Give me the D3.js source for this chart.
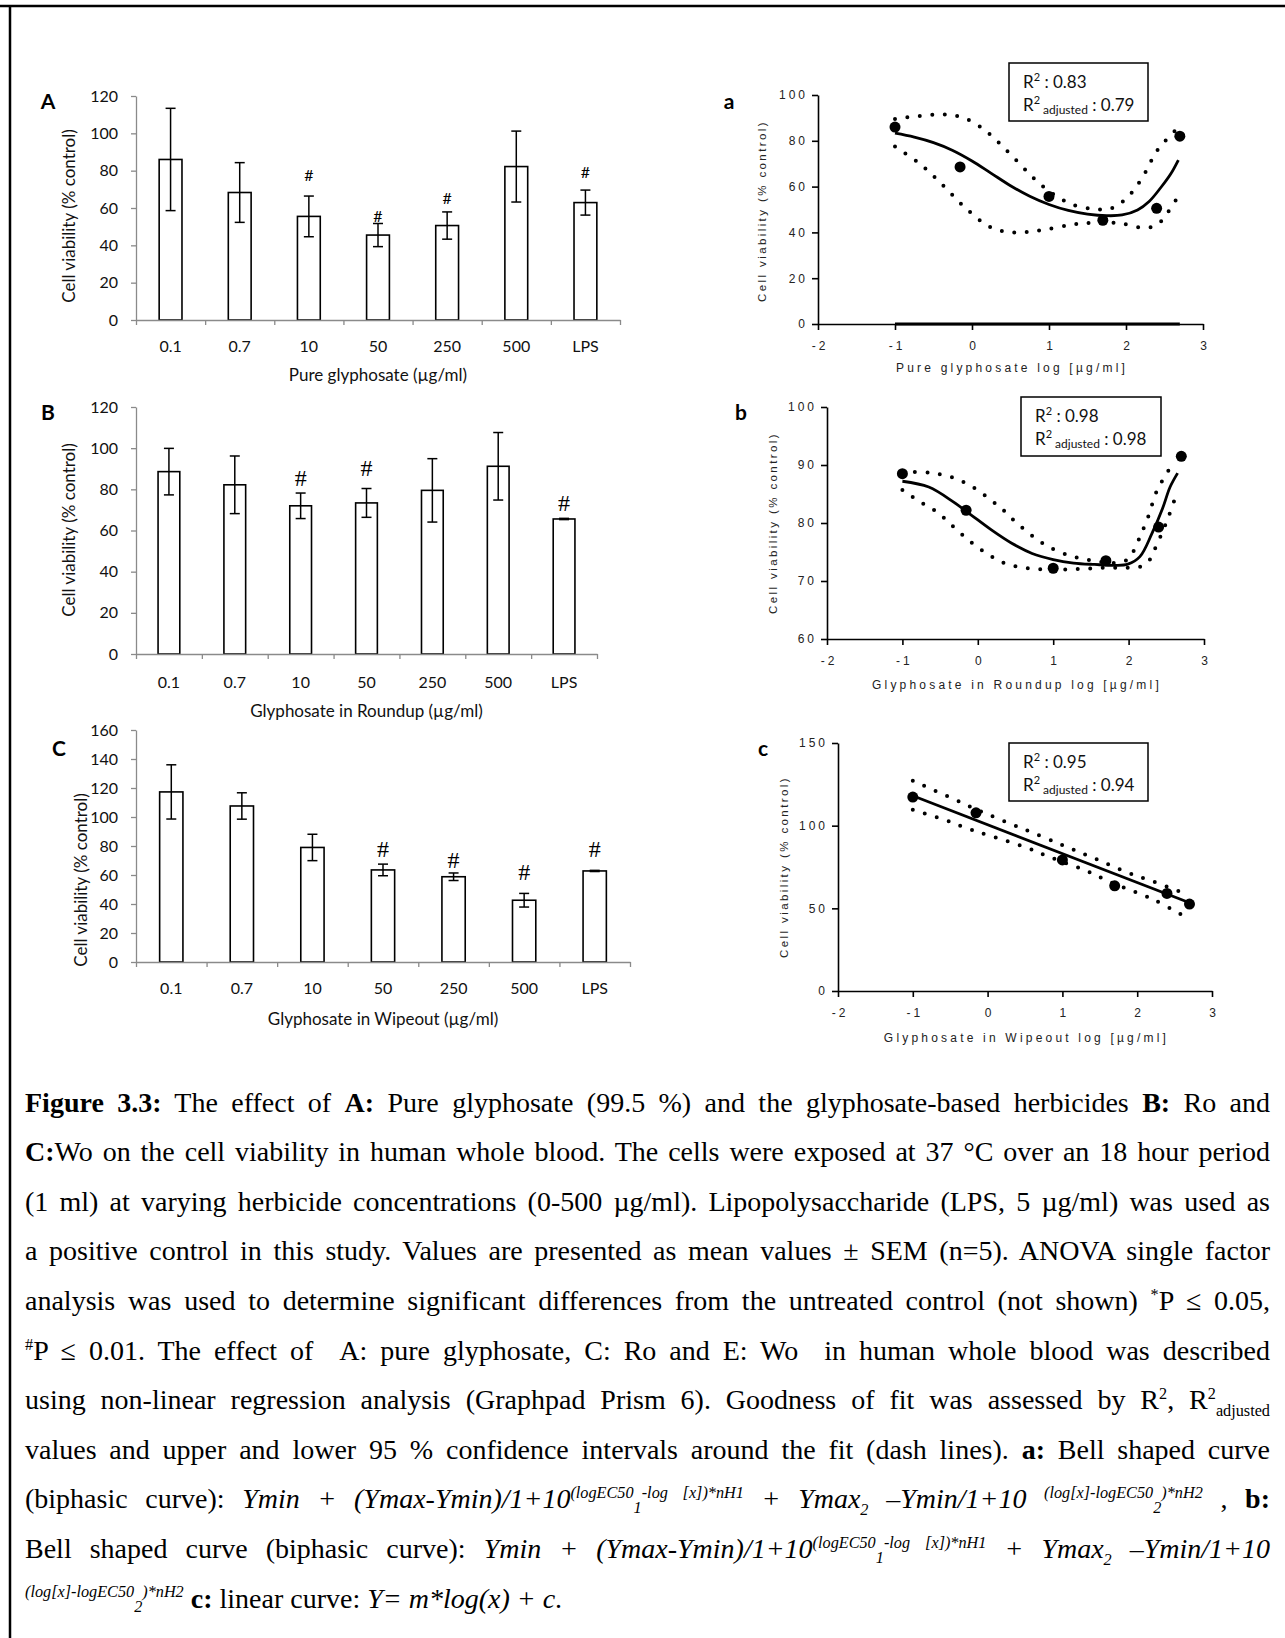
<!DOCTYPE html>
<html><head><meta charset="utf-8">
<script src="https://cdn.jsdelivr.net/npm/d3@7"></script>
<style>
html,body{margin:0;padding:0;background:#fff;}
#wrap{position:relative;width:1285px;height:1638px;overflow:hidden;background:#fff;}
svg{position:absolute;left:0;top:0;}
#cap{position:absolute;left:25px;top:0;width:1245px;font-family:"Liberation Serif","Times New Roman",serif;font-size:28px;color:#000;}
.ln{position:absolute;left:0;white-space:nowrap;line-height:30px;}
.ln sup,.ln sub{line-height:0;font-size:58%;}
.ln sup sub{font-size:100%;vertical-align:-15px;}
</style></head><body><div id="wrap"></div>
<script>
// ---------- data ----------
const categories = ["0.1","0.7","10","50","250","500","LPS"];
const meanA = [86.0, 68.3, 55.5, 45.5, 50.6, 82.2, 62.9];
const semA  = [27.4, 16.0, 10.9, 6.2, 7.3, 19.0, 6.7];
const sigA  = [null, null, 78.2, 55.9, 65.5, null, 79.5];
const meanB = [88.6, 82.2, 72.0, 73.4, 79.5, 91.2, 65.6];
const semB  = [11.3, 14.0, 6.2, 7.0, 15.4, 16.4, 0.3];
const sigB  = [null, null, 85.3, 90.6, null, null, 73.2];
const meanC = [117.3, 107.6, 79.0, 63.5, 58.8, 42.6, 62.8];
const semC  = [18.7, 9.1, 9.1, 4.0, 2.6, 4.7, 0.4];
const sigC  = [null, null, null, 77.6, 70.2, 62.2, 77.6];

const yTicksA = [0,20,40,60,80,100,120];
const yTicksB = [0,20,40,60,80,100,120];
const yTicksC = [0,20,40,60,80,100,120,140,160];

const logDose = [-1, -0.155, 1, 1.699, 2.398, 2.699];
const xTicksLog = [-2,-1,0,1,2,3];

const ptsA = [86.0, 68.6, 55.7, 45.3, 50.5, 82.0];
const fitA = [[-1,83.3],[-0.75,81.6],[-0.5,79.2],[-0.25,75.8],[0,71.2],[0.25,65.8],[0.5,60.4],[0.75,55.8],[1,52.2],[1.25,49.6],[1.5,48],[1.75,47.3],[1.95,47.6],[2.15,49.8],[2.3,53.5],[2.45,59.5],[2.58,65.5],[2.68,71.6]];
const upA  = [[-1,89.5],[-0.7,90.8],[-0.4,91.5],[-0.15,90.5],[0.1,86.3],[0.31,80.4],[0.53,73.1],[0.8,63.7],[1.01,57.8],[1.28,52.5],[1.6,50.1],[1.82,50.6],[2.03,55.7],[2.22,64.4],[2.41,76],[2.67,85.5]];
const loA  = [[-1,77.5],[-0.66,69.5],[-0.36,60],[-0.06,49.9],[0.26,41.9],[0.53,40],[0.85,40.7],[1.28,43.3],[1.6,44.3],[1.92,44],[2.25,41.9],[2.4,43.3],[2.49,46.2],[2.57,50.1],[2.65,54.2]];
const yTicksFitA = [0,20,40,60,80,100];

const ptsB = [88.5, 82.2, 72.2, 73.5, 79.3, 91.5];
const fitB = [[-1,87.2],[-0.65,86.2],[-0.32,83.6],[-0.1,81.5],[0.18,78.8],[0.45,76.5],[0.72,74.75],[1,73.7],[1.27,73.1],[1.55,72.85],[1.82,72.7],[1.99,72.9],[2.15,74.2],[2.31,78.2],[2.45,82.5],[2.55,86.2],[2.65,88.6]];
const upB  = [[-1,88.8],[-0.65,88.7],[-0.32,87.8],[-0.04,86],[0.18,83.9],[0.34,82.2],[0.5,80.2],[0.72,77.8],[0.94,75.9],[1.22,74.35],[1.49,73.6],[1.77,73.1],[1.96,73.5],[2.04,74.6],[2.15,77.6],[2.26,81.1],[2.37,85.4],[2.48,88],[2.6,90.5]];
const loB  = [[-1,85.7],[-0.76,83.6],[-0.54,81.9],[-0.32,79.3],[-0.1,76.8],[0.12,74.75],[0.37,73],[0.67,72.2],[1,72],[1.33,72.05],[1.66,72.3],[1.99,72.3],[2.15,72.45],[2.26,73.3],[2.34,75.3],[2.42,77.6],[2.53,81.1],[2.63,84.8]];
const yTicksFitB = [60,70,80,90,100];

const ptsC = [117.3, 107.8, 79.3, 63.6, 59.0, 52.6];
const fitC = [[-1,118.1],[2.7,53.4]];
const upC  = [[-1,127.2],[-0.45,116],[-0.03,107.5],[0.5,97.6],[1,88.3],[1.32,82.3],[1.9,71.2],[2.2,66.5],[2.61,59.4]];
const loC  = [[-1,109.6],[-0.57,103.5],[-0.28,98.5],[0,94.4],[0.5,87],[0.85,80.7],[1.3,73],[1.68,65.1],[2.23,55],[2.64,44.9]];
const yTicksFitC = [0,50,100,150];

const r2a = ["0.83","0.79"];
const r2b = ["0.98","0.98"];
const r2c = ["0.95","0.94"];

const captionLines = [
 '<b>Figure 3.3:</b> The effect of <b>A:</b> Pure glyphosate (99.5 %) and the glyphosate-based herbicides <b>B:</b> Ro and',
 '<b>C:</b>Wo on the cell viability in human whole blood. The cells were exposed at 37 °C over an 18 hour period',
 '(1 ml) at varying herbicide concentrations (0-500 µg/ml). Lipopolysaccharide (LPS, 5 µg/ml) was used as',
 'a positive control in this study. Values are presented as mean values ± SEM (n=5). ANOVA single factor',
 'analysis was used to determine significant differences from the untreated control (not shown) <sup>*</sup>P ≤ 0.05,',
 '<sup>#</sup>P ≤ 0.01. The effect of &nbsp;A: pure glyphosate, C: Ro and E: Wo &nbsp;in human whole blood was described',
 'using non-linear regression analysis (Graphpad Prism 6). Goodness of fit was assessed by R<sup>2</sup>, R<sup>2</sup><sub>adjusted</sub>',
 'values and upper and lower 95 % confidence intervals around the fit (dash lines). <b>a:</b> Bell shaped curve',
 '(biphasic curve): <i>Ymin + (Ymax-Ymin)/1+10<sup>(logEC50<sub>1</sub>-log [x])*nH1</sup> + Ymax<sub>2</sub> –Ymin/1+10 <sup>(log[x]-logEC50<sub>2</sub>)*nH2</sup></i> , <b>b:</b>',
 'Bell shaped curve (biphasic curve): <i>Ymin + (Ymax-Ymin)/1+10<sup>(logEC50<sub>1</sub>-log [x])*nH1</sup> + Ymax<sub>2</sub> –Ymin/1+10</i>',
 '<i><sup>(log[x]-logEC50<sub>2</sub>)*nH2</sup></i> <b>c:</b> linear curve: <i>Y= m*log(x) + c</i>.'
];

// ---------- drawing ----------
const W = 1285, H = 1638;
const wrap = d3.select('#wrap');
const svg = wrap.append('svg').attr('width', W).attr('height', H);
const SANS = "Lato, 'Open Sans', sans-serif";
const ARIAL = "'Liberation Sans', Arial, sans-serif";
const SERIF = "'Liberation Serif', 'Times New Roman', serif";
const AX = '#8a8a8a';

// frame
svg.append('line').attr('x1',0).attr('x2',W).attr('y1',6).attr('y2',6).attr('stroke','#000').attr('stroke-width',2.5);
svg.append('line').attr('x1',10).attr('x2',10).attr('y1',5).attr('y2',H).attr('stroke','#000').attr('stroke-width',2.5);

function barPanel(o){
  const g = svg.append('g');
  const x = d3.scaleBand().domain(categories).range([o.x0,o.x1]).padding(0);
  const y = d3.scaleLinear().domain([0,o.max]).range([o.yb,o.yt]);
  const bw = x.bandwidth()*0.33;
  g.selectAll('rect.bar').data(categories).join('rect')
    .attr('x', d => x(d)+(x.bandwidth()-bw)/2)
    .attr('y', (d,i) => y(o.mean[i]))
    .attr('width', bw)
    .attr('height', (d,i) => y(0)-y(o.mean[i]))
    .attr('fill','#fff').attr('stroke','#000').attr('stroke-width',1.6);
  const eb = g.selectAll('g.eb').data(categories).join('g');
  eb.append('line')
    .attr('x1', d => x(d)+x.bandwidth()/2).attr('x2', d => x(d)+x.bandwidth()/2)
    .attr('y1', (d,i) => y(o.mean[i]+o.sem[i])).attr('y2', (d,i) => y(o.mean[i]-o.sem[i]))
    .attr('stroke','#000').attr('stroke-width',1.5);
  [1,-1].forEach(s => {
    eb.append('line')
      .attr('x1', d => x(d)+x.bandwidth()/2-5).attr('x2', d => x(d)+x.bandwidth()/2+5)
      .attr('y1', (d,i) => y(o.mean[i]+s*o.sem[i])).attr('y2', (d,i) => y(o.mean[i]+s*o.sem[i]))
      .attr('stroke','#000').attr('stroke-width',1.5);
  });
  const ya = g.append('g').attr('transform',`translate(${o.x0},0)`)
    .call(d3.axisLeft(y).tickValues(o.ticks).tickSize(5).tickSizeOuter(0).tickPadding(13));
  ya.select('.domain').attr('stroke',AX).attr('stroke-width',1.3);
  ya.selectAll('.tick line').attr('stroke',AX).attr('stroke-width',1.3);
  ya.selectAll('.tick text').attr('font-family',SANS).attr('font-size',16).attr('fill','#111');
  const bnd = d3.scaleLinear().domain([0,categories.length]).range([o.x0,o.x1]);
  const xb = g.append('g').attr('transform',`translate(0,${o.yb})`)
    .call(d3.axisBottom(bnd).tickValues(d3.range(categories.length+1)).tickFormat('').tickSize(5).tickSizeOuter(0));
  xb.select('.domain').attr('stroke',AX).attr('stroke-width',1.3);
  xb.selectAll('.tick line').attr('stroke',AX).attr('stroke-width',1.3);
  const xa = g.append('g').attr('transform',`translate(0,${o.yb})`)
    .call(d3.axisBottom(x).tickSize(0));
  xa.select('.domain').remove();
  xa.selectAll('.tick text').attr('y', o.labY-o.yb).attr('dy','0.35em')
    .attr('font-family',SANS).attr('font-size',16).attr('fill','#111');
  g.selectAll('text.sig').data(categories.filter((d,i)=>o.sig[i]!=null)).join('text')
    .attr('x', d => x(d)+x.bandwidth()/2)
    .attr('y', d => y(o.sig[categories.indexOf(d)]))
    .attr('text-anchor','middle').attr('dominant-baseline','central')
    .attr('font-family', o.sigFont).attr('font-size', o.sigSize).attr('fill','#000')
    .text('#');
  g.append('text').attr('x',(o.x0+o.x1)/2).attr('y',o.titleY).attr('text-anchor','middle').attr('dominant-baseline','central')
    .attr('font-family',SANS).attr('font-size',17).attr('fill','#111').text(o.title);
  g.append('text').attr('transform',`translate(${o.ylabX},${o.ylabY}) rotate(-90)`).attr('text-anchor','middle').attr('dominant-baseline','central')
    .attr('font-family',SANS).attr('font-size',17).attr('fill','#111').text('Cell viability (% control)');
  g.append('text').attr('x',o.letterX).attr('y',o.letterY).attr('text-anchor','middle').attr('dominant-baseline','central')
    .attr('font-family',SANS).attr('font-weight','bold').attr('font-size',21).attr('fill','#000').text(o.letter);
}

barPanel({x0:136,x1:620,yb:320,yt:96,max:120,ticks:yTicksA,mean:meanA,sem:semA,sig:sigA,labY:346,titleY:374,
  title:'Pure glyphosate (µg/ml)',ylabX:68,ylabY:216,letter:'A',letterX:48,letterY:100,sigFont:SANS,sigSize:16});
barPanel({x0:136,x1:597,yb:654,yt:407,max:120,ticks:yTicksB,mean:meanB,sem:semB,sig:sigB,labY:682,titleY:710,
  title:'Glyphosate in Roundup (µg/ml)',ylabX:68,ylabY:530,letter:'B',letterX:48,letterY:411,sigFont:SERIF,sigSize:24});
barPanel({x0:136,x1:630,yb:962,yt:730,max:160,ticks:yTicksC,mean:meanC,sem:semC,sig:sigC,labY:988,titleY:1018,
  title:'Glyphosate in Wipeout (µg/ml)',ylabX:80,ylabY:880,letter:'C',letterX:59,letterY:747,sigFont:SERIF,sigSize:24});

function fitPanel(o){
  const g = svg.append('g');
  const x = d3.scaleLinear().domain([-2,3]).range([o.x0,o.x1]);
  const y = d3.scaleLinear().domain([o.ymin,o.ymax]).range([o.yb,o.yt]);
  const ls = 3;
  const ya = g.append('g').attr('transform',`translate(${o.x0},0)`)
    .call(d3.axisLeft(y).tickValues(o.ticks).tickSize(6).tickSizeOuter(0).tickPadding(4).tickFormat(d=>String(d)));
  const xa = g.append('g').attr('transform',`translate(0,${o.yb})`)
    .call(d3.axisBottom(x).tickValues(xTicksLog).tickSize(6).tickSizeOuter(0).tickFormat(d=>String(d)));
  [ya,xa].forEach(a => {
    a.select('.domain').attr('stroke','#000').attr('stroke-width',1.6);
    a.selectAll('.tick line').attr('stroke','#000').attr('stroke-width',1.6);
    a.selectAll('.tick text').attr('font-family',ARIAL).attr('font-size',12).attr('fill','#222').attr('letter-spacing',ls);
  });
  xa.selectAll('.tick text').attr('y', o.labY-o.yb).attr('dy','0.35em').attr('dx', ls/2);
  g.append('text').attr('x',(o.x0+o.x1)/2+ls/2).attr('y',o.titleY).attr('text-anchor','middle').attr('dominant-baseline','central')
    .attr('font-family',ARIAL).attr('font-size',12).attr('letter-spacing',3.2).attr('fill','#222').text(o.title);
  g.append('text').attr('transform',`translate(${o.ylabX},${o.ylabY}) rotate(-90)`).attr('text-anchor','middle').attr('dominant-baseline','central')
    .attr('font-family',ARIAL).attr('font-size',11.5).attr('letter-spacing',2.4).attr('fill','#222').text('Cell viability (% control)');
  g.append('text').attr('x',o.letterX).attr('y',o.letterY).attr('text-anchor','middle').attr('dominant-baseline','central')
    .attr('font-family',SANS).attr('font-weight','bold').attr('font-size',21).attr('fill','#000').text(o.letter);
  if (o.baseSeg) {
    const ext = d3.extent(logDose);
    g.append('line').attr('x1',x(ext[0])).attr('x2',x(ext[1])).attr('y1',y(o.ymin)).attr('y2',y(o.ymin))
      .attr('stroke','#000').attr('stroke-width',3);
  }
  const line = d3.line().x(d=>x(d[0])).y(d=>y(d[1])).curve(d3.curveCatmullRom.alpha(0.5));
  [o.up,o.lo].forEach(band => {
    g.append('path').datum(band).attr('d',line).attr('fill','none').attr('stroke','#000')
      .attr('stroke-width',4).attr('stroke-linecap','round').attr('stroke-dasharray','0 12.5');
  });
  g.append('path').datum(o.fit).attr('d',line).attr('fill','none').attr('stroke','#000').attr('stroke-width',2.8);
  g.selectAll('circle.pt').data(o.pts).join('circle')
    .attr('cx',(d,i)=>x(logDose[i])).attr('cy',d=>y(d)).attr('r',5.5).attr('fill','#000');
  const b = o.box;
  g.append('rect').attr('x',b[0]).attr('y',b[1]).attr('width',b[2]).attr('height',b[3])
    .attr('fill','#fff').attr('stroke','#000').attr('stroke-width',1.5);
  const t1 = g.append('text').attr('x',b[0]+14).attr('y',b[1]+25).attr('font-family',SANS).attr('font-size',17).attr('fill','#111');
  t1.append('tspan').text('R');
  t1.append('tspan').attr('dy',-7).attr('font-size',11).text('2');
  t1.append('tspan').attr('dy',7).text(' :  ' + o.r2[0]);
  const t2 = g.append('text').attr('x',b[0]+14).attr('y',b[1]+48).attr('font-family',SANS).attr('font-size',17).attr('fill','#111');
  t2.append('tspan').text('R');
  t2.append('tspan').attr('dy',-7).attr('font-size',11).text('2');
  t2.append('tspan').attr('dy',10).attr('font-size',12).text(' adjusted');
  t2.append('tspan').attr('dy',-3).text(' : ' + o.r2[1]);
}

fitPanel({x0:818,x1:1203,yb:324,yt:95,ymin:0,ymax:100,ticks:yTicksFitA,labY:346,titleY:368,title:'Pure glyphosate log [µg/ml]',
  ylabX:762,ylabY:211,letter:'a',letterX:729,letterY:100,pts:ptsA,fit:fitA,up:upA,lo:loA,box:[1009,63,139,58],r2:r2a,baseSeg:true});
fitPanel({x0:827,x1:1204,yb:639,yt:407,ymin:60,ymax:100,ticks:yTicksFitB,labY:661,titleY:685,title:'Glyphosate in Roundup log [µg/ml]',
  ylabX:773,ylabY:523,letter:'b',letterX:741,letterY:411,pts:ptsB,fit:fitB,up:upB,lo:loB,box:[1021,397,140,59],r2:r2b,baseSeg:false});
fitPanel({x0:838,x1:1212,yb:991,yt:743,ymin:0,ymax:150,ticks:yTicksFitC,labY:1013,titleY:1038,title:'Glyphosate in Wipeout log [µg/ml]',
  ylabX:784,ylabY:867,letter:'c',letterX:763,letterY:747,pts:ptsC,fit:fitC,up:upC,lo:loC,box:[1009,743,139,58],r2:r2c,baseSeg:false});

// caption
const capW = 1245;
const cap = wrap.append('div').attr('id','cap');
cap.selectAll('div.ln').data(captionLines).join('div').attr('class','ln')
  .style('top',(d,i)=>(1112 + 49.6*i - 24.4)+'px')
  .html(d=>d);
cap.selectAll('div.ln').each(function(d,i){
  if (i === captionLines.length-1) return;
  const w = this.getBoundingClientRect().width;
  const n = (this.textContent.match(/[ \u00a0]/g)||[]).length;
  if (n>0) this.style.wordSpacing = ((capW - w)/n)+'px';
});
</script></body></html>
